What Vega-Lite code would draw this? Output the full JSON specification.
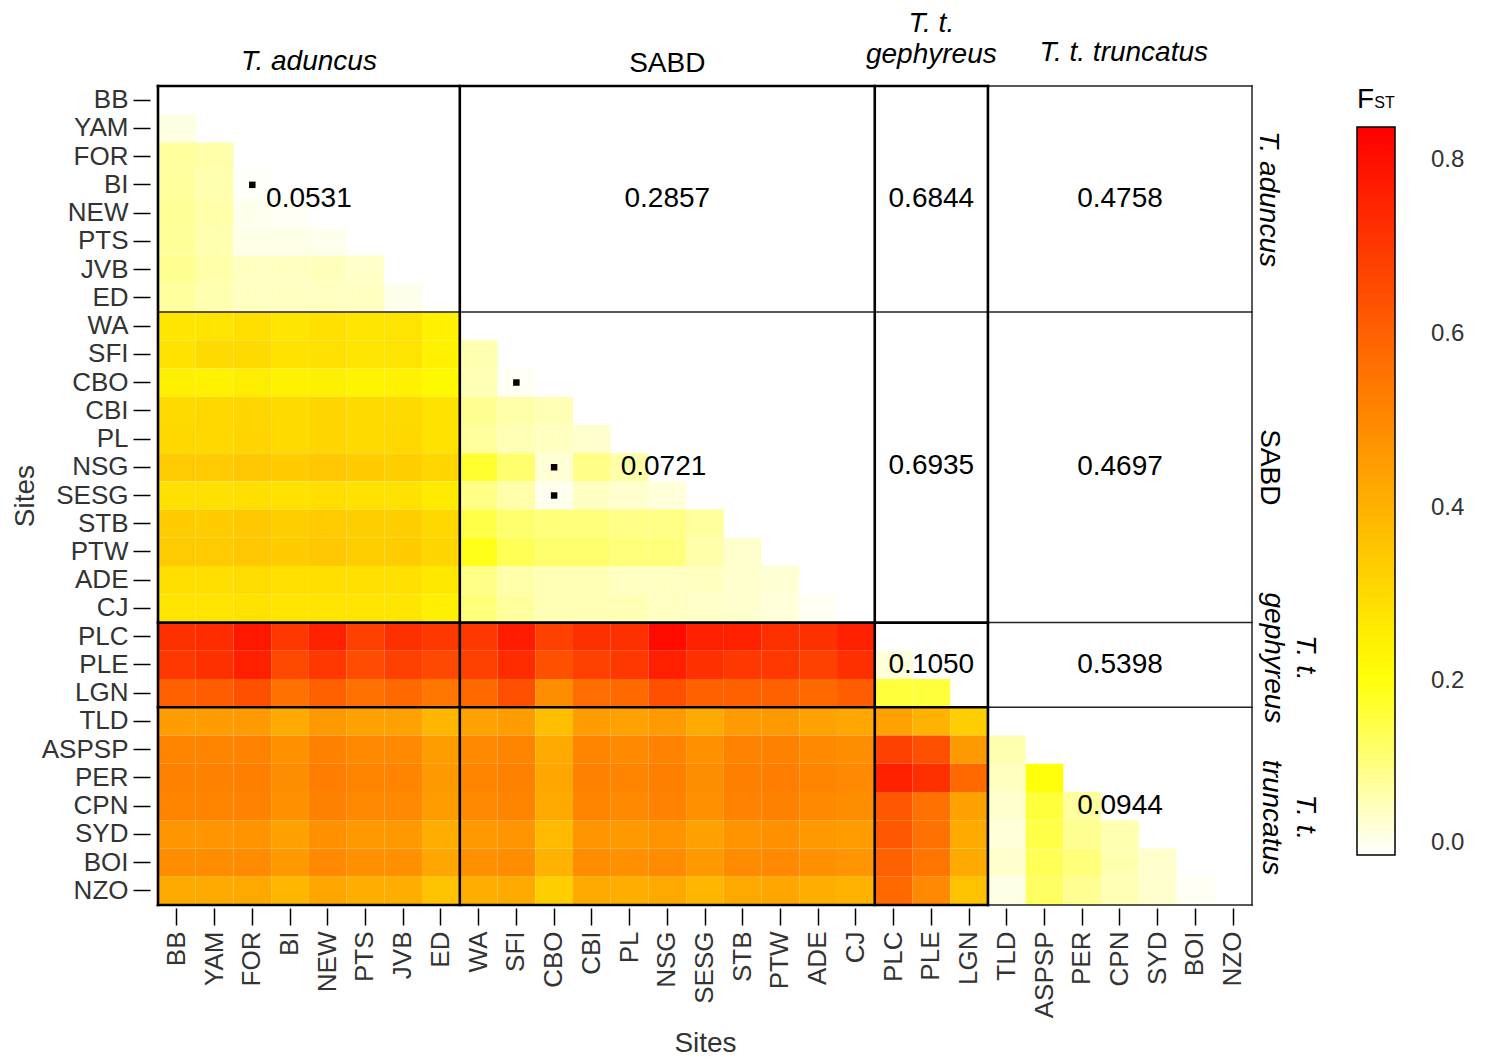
{
"$schema": "https://vega.github.io/schema/vega-lite/v6.json",
"width": 1094, "height": 819,
"autosize": {"type": "none"},
"padding": {"left": 158, "top": 86, "right": 233, "bottom": 154},
"background": "white",
"config": {"view": {"stroke": null}, "font": "Liberation Sans"},
"datasets": {
"cells": [
{"row":"YAM","col":"BB","fst":0.025},
{"row":"FOR","col":"BB","fst":0.08},{"row":"FOR","col":"YAM","fst":0.07},
{"row":"BI","col":"BB","fst":0.08},{"row":"BI","col":"YAM","fst":0.065},{"row":"BI","col":"FOR","fst":0.005},
{"row":"NEW","col":"BB","fst":0.085},{"row":"NEW","col":"YAM","fst":0.07},{"row":"NEW","col":"FOR","fst":0.015},{"row":"NEW","col":"BI","fst":0.01},
{"row":"PTS","col":"BB","fst":0.085},{"row":"PTS","col":"YAM","fst":0.065},{"row":"PTS","col":"FOR","fst":0.02},{"row":"PTS","col":"BI","fst":0.02},{"row":"PTS","col":"NEW","fst":0.015},
{"row":"JVB","col":"BB","fst":0.09},{"row":"JVB","col":"YAM","fst":0.07},{"row":"JVB","col":"FOR","fst":0.05},{"row":"JVB","col":"BI","fst":0.05},{"row":"JVB","col":"NEW","fst":0.055},{"row":"JVB","col":"PTS","fst":0.045},
{"row":"ED","col":"BB","fst":0.08},{"row":"ED","col":"YAM","fst":0.065},{"row":"ED","col":"FOR","fst":0.05},{"row":"ED","col":"BI","fst":0.05},{"row":"ED","col":"NEW","fst":0.05},{"row":"ED","col":"PTS","fst":0.05},{"row":"ED","col":"JVB","fst":0.015},

{"row":"WA","col":"BB","fst":0.27},{"row":"WA","col":"YAM","fst":0.275},{"row":"WA","col":"FOR","fst":0.29},{"row":"WA","col":"BI","fst":0.27},{"row":"WA","col":"NEW","fst":0.285},{"row":"WA","col":"PTS","fst":0.27},{"row":"WA","col":"JVB","fst":0.275},{"row":"WA","col":"ED","fst":0.245},
{"row":"SFI","col":"BB","fst":0.28},{"row":"SFI","col":"YAM","fst":0.30},{"row":"SFI","col":"FOR","fst":0.30},{"row":"SFI","col":"BI","fst":0.28},{"row":"SFI","col":"NEW","fst":0.285},{"row":"SFI","col":"PTS","fst":0.275},{"row":"SFI","col":"JVB","fst":0.275},{"row":"SFI","col":"ED","fst":0.245},{"row":"SFI","col":"WA","fst":0.065},
{"row":"CBO","col":"BB","fst":0.25},{"row":"CBO","col":"YAM","fst":0.245},{"row":"CBO","col":"FOR","fst":0.255},{"row":"CBO","col":"BI","fst":0.245},{"row":"CBO","col":"NEW","fst":0.25},{"row":"CBO","col":"PTS","fst":0.24},{"row":"CBO","col":"JVB","fst":0.245},{"row":"CBO","col":"ED","fst":0.225},{"row":"CBO","col":"WA","fst":0.06},{"row":"CBO","col":"SFI","fst":0.01},
{"row":"CBI","col":"BB","fst":0.30},{"row":"CBI","col":"YAM","fst":0.305},{"row":"CBI","col":"FOR","fst":0.31},{"row":"CBI","col":"BI","fst":0.30},{"row":"CBI","col":"NEW","fst":0.31},{"row":"CBI","col":"PTS","fst":0.30},{"row":"CBI","col":"JVB","fst":0.30},{"row":"CBI","col":"ED","fst":0.28},{"row":"CBI","col":"WA","fst":0.09},{"row":"CBI","col":"SFI","fst":0.07},{"row":"CBI","col":"CBO","fst":0.06},
{"row":"PL","col":"BB","fst":0.305},{"row":"PL","col":"YAM","fst":0.305},{"row":"PL","col":"FOR","fst":0.315},{"row":"PL","col":"BI","fst":0.30},{"row":"PL","col":"NEW","fst":0.31},{"row":"PL","col":"PTS","fst":0.30},{"row":"PL","col":"JVB","fst":0.305},{"row":"PL","col":"ED","fst":0.28},{"row":"PL","col":"WA","fst":0.08},{"row":"PL","col":"SFI","fst":0.06},{"row":"PL","col":"CBO","fst":0.05},{"row":"PL","col":"CBI","fst":0.04},
{"row":"NSG","col":"BB","fst":0.34},{"row":"NSG","col":"YAM","fst":0.34},{"row":"NSG","col":"FOR","fst":0.345},{"row":"NSG","col":"BI","fst":0.335},{"row":"NSG","col":"NEW","fst":0.345},{"row":"NSG","col":"PTS","fst":0.335},{"row":"NSG","col":"JVB","fst":0.33},{"row":"NSG","col":"ED","fst":0.31},{"row":"NSG","col":"WA","fst":0.17},{"row":"NSG","col":"SFI","fst":0.12},{"row":"NSG","col":"CBO","fst":0.035},{"row":"NSG","col":"CBI","fst":0.10},{"row":"NSG","col":"PL","fst":0.07},
{"row":"SESG","col":"BB","fst":0.285},{"row":"SESG","col":"YAM","fst":0.285},{"row":"SESG","col":"FOR","fst":0.29},{"row":"SESG","col":"BI","fst":0.28},{"row":"SESG","col":"NEW","fst":0.29},{"row":"SESG","col":"PTS","fst":0.28},{"row":"SESG","col":"JVB","fst":0.28},{"row":"SESG","col":"ED","fst":0.26},{"row":"SESG","col":"WA","fst":0.10},{"row":"SESG","col":"SFI","fst":0.07},{"row":"SESG","col":"CBO","fst":0.015},{"row":"SESG","col":"CBI","fst":0.05},{"row":"SESG","col":"PL","fst":0.04},{"row":"SESG","col":"NSG","fst":0.03},
{"row":"STB","col":"BB","fst":0.335},{"row":"STB","col":"YAM","fst":0.335},{"row":"STB","col":"FOR","fst":0.345},{"row":"STB","col":"BI","fst":0.33},{"row":"STB","col":"NEW","fst":0.34},{"row":"STB","col":"PTS","fst":0.33},{"row":"STB","col":"JVB","fst":0.33},{"row":"STB","col":"ED","fst":0.305},{"row":"STB","col":"WA","fst":0.15},{"row":"STB","col":"SFI","fst":0.12},{"row":"STB","col":"CBO","fst":0.11},{"row":"STB","col":"CBI","fst":0.11},{"row":"STB","col":"PL","fst":0.10},{"row":"STB","col":"NSG","fst":0.10},{"row":"STB","col":"SESG","fst":0.08},
{"row":"PTW","col":"BB","fst":0.34},{"row":"PTW","col":"YAM","fst":0.34},{"row":"PTW","col":"FOR","fst":0.345},{"row":"PTW","col":"BI","fst":0.335},{"row":"PTW","col":"NEW","fst":0.345},{"row":"PTW","col":"PTS","fst":0.33},{"row":"PTW","col":"JVB","fst":0.335},{"row":"PTW","col":"ED","fst":0.31},{"row":"PTW","col":"WA","fst":0.19},{"row":"PTW","col":"SFI","fst":0.14},{"row":"PTW","col":"CBO","fst":0.12},{"row":"PTW","col":"CBI","fst":0.12},{"row":"PTW","col":"PL","fst":0.11},{"row":"PTW","col":"NSG","fst":0.11},{"row":"PTW","col":"SESG","fst":0.07},{"row":"PTW","col":"STB","fst":0.04},
{"row":"ADE","col":"BB","fst":0.29},{"row":"ADE","col":"YAM","fst":0.29},{"row":"ADE","col":"FOR","fst":0.295},{"row":"ADE","col":"BI","fst":0.285},{"row":"ADE","col":"NEW","fst":0.29},{"row":"ADE","col":"PTS","fst":0.285},{"row":"ADE","col":"JVB","fst":0.285},{"row":"ADE","col":"ED","fst":0.265},{"row":"ADE","col":"WA","fst":0.10},{"row":"ADE","col":"SFI","fst":0.07},{"row":"ADE","col":"CBO","fst":0.06},{"row":"ADE","col":"CBI","fst":0.06},{"row":"ADE","col":"PL","fst":0.05},{"row":"ADE","col":"NSG","fst":0.05},{"row":"ADE","col":"SESG","fst":0.05},{"row":"ADE","col":"STB","fst":0.04},{"row":"ADE","col":"PTW","fst":0.035},
{"row":"CJ","col":"BB","fst":0.275},{"row":"CJ","col":"YAM","fst":0.275},{"row":"CJ","col":"FOR","fst":0.28},{"row":"CJ","col":"BI","fst":0.27},{"row":"CJ","col":"NEW","fst":0.275},{"row":"CJ","col":"PTS","fst":0.27},{"row":"CJ","col":"JVB","fst":0.27},{"row":"CJ","col":"ED","fst":0.25},{"row":"CJ","col":"WA","fst":0.11},{"row":"CJ","col":"SFI","fst":0.08},{"row":"CJ","col":"CBO","fst":0.06},{"row":"CJ","col":"CBI","fst":0.06},{"row":"CJ","col":"PL","fst":0.06},{"row":"CJ","col":"NSG","fst":0.05},{"row":"CJ","col":"SESG","fst":0.045},{"row":"CJ","col":"STB","fst":0.04},{"row":"CJ","col":"PTW","fst":0.03},{"row":"CJ","col":"ADE","fst":0.01},

{"row":"PLC","col":"BB","fst":0.72},{"row":"PLC","col":"YAM","fst":0.73},{"row":"PLC","col":"FOR","fst":0.78},{"row":"PLC","col":"BI","fst":0.70},{"row":"PLC","col":"NEW","fst":0.76},{"row":"PLC","col":"PTS","fst":0.68},{"row":"PLC","col":"JVB","fst":0.72},{"row":"PLC","col":"ED","fst":0.70},{"row":"PLC","col":"WA","fst":0.70},{"row":"PLC","col":"SFI","fst":0.77},{"row":"PLC","col":"CBO","fst":0.68},{"row":"PLC","col":"CBI","fst":0.72},{"row":"PLC","col":"PL","fst":0.72},{"row":"PLC","col":"NSG","fst":0.81},{"row":"PLC","col":"SESG","fst":0.76},{"row":"PLC","col":"STB","fst":0.76},{"row":"PLC","col":"PTW","fst":0.72},{"row":"PLC","col":"ADE","fst":0.72},{"row":"PLC","col":"CJ","fst":0.76},
{"row":"PLE","col":"BB","fst":0.70},{"row":"PLE","col":"YAM","fst":0.72},{"row":"PLE","col":"FOR","fst":0.76},{"row":"PLE","col":"BI","fst":0.66},{"row":"PLE","col":"NEW","fst":0.70},{"row":"PLE","col":"PTS","fst":0.65},{"row":"PLE","col":"JVB","fst":0.68},{"row":"PLE","col":"ED","fst":0.66},{"row":"PLE","col":"WA","fst":0.68},{"row":"PLE","col":"SFI","fst":0.73},{"row":"PLE","col":"CBO","fst":0.64},{"row":"PLE","col":"CBI","fst":0.68},{"row":"PLE","col":"PL","fst":0.70},{"row":"PLE","col":"NSG","fst":0.76},{"row":"PLE","col":"SESG","fst":0.72},{"row":"PLE","col":"STB","fst":0.70},{"row":"PLE","col":"PTW","fst":0.70},{"row":"PLE","col":"ADE","fst":0.68},{"row":"PLE","col":"CJ","fst":0.72},{"row":"PLE","col":"PLC","fst":0.03},
{"row":"LGN","col":"BB","fst":0.60},{"row":"LGN","col":"YAM","fst":0.61},{"row":"LGN","col":"FOR","fst":0.64},{"row":"LGN","col":"BI","fst":0.56},{"row":"LGN","col":"NEW","fst":0.60},{"row":"LGN","col":"PTS","fst":0.56},{"row":"LGN","col":"JVB","fst":0.58},{"row":"LGN","col":"ED","fst":0.55},{"row":"LGN","col":"WA","fst":0.58},{"row":"LGN","col":"SFI","fst":0.64},{"row":"LGN","col":"CBO","fst":0.49},{"row":"LGN","col":"CBI","fst":0.57},{"row":"LGN","col":"PL","fst":0.58},{"row":"LGN","col":"NSG","fst":0.64},{"row":"LGN","col":"SESG","fst":0.60},{"row":"LGN","col":"STB","fst":0.60},{"row":"LGN","col":"PTW","fst":0.60},{"row":"LGN","col":"ADE","fst":0.58},{"row":"LGN","col":"CJ","fst":0.61},{"row":"LGN","col":"PLC","fst":0.16},{"row":"LGN","col":"PLE","fst":0.16},

{"row":"TLD","col":"BB","fst":0.45},{"row":"TLD","col":"YAM","fst":0.45},{"row":"TLD","col":"FOR","fst":0.455},{"row":"TLD","col":"BI","fst":0.42},{"row":"TLD","col":"NEW","fst":0.46},{"row":"TLD","col":"PTS","fst":0.44},{"row":"TLD","col":"JVB","fst":0.44},{"row":"TLD","col":"ED","fst":0.39},{"row":"TLD","col":"WA","fst":0.44},{"row":"TLD","col":"SFI","fst":0.45},{"row":"TLD","col":"CBO","fst":0.37},{"row":"TLD","col":"CBI","fst":0.45},{"row":"TLD","col":"PL","fst":0.44},{"row":"TLD","col":"NSG","fst":0.455},{"row":"TLD","col":"SESG","fst":0.42},{"row":"TLD","col":"STB","fst":0.455},{"row":"TLD","col":"PTW","fst":0.46},{"row":"TLD","col":"ADE","fst":0.44},{"row":"TLD","col":"CJ","fst":0.43},{"row":"TLD","col":"PLC","fst":0.44},{"row":"TLD","col":"PLE","fst":0.40},{"row":"TLD","col":"LGN","fst":0.33},
{"row":"ASPSP","col":"BB","fst":0.51},{"row":"ASPSP","col":"YAM","fst":0.51},{"row":"ASPSP","col":"FOR","fst":0.515},{"row":"ASPSP","col":"BI","fst":0.48},{"row":"ASPSP","col":"NEW","fst":0.52},{"row":"ASPSP","col":"PTS","fst":0.50},{"row":"ASPSP","col":"JVB","fst":0.50},{"row":"ASPSP","col":"ED","fst":0.45},{"row":"ASPSP","col":"WA","fst":0.50},{"row":"ASPSP","col":"SFI","fst":0.51},{"row":"ASPSP","col":"CBO","fst":0.42},{"row":"ASPSP","col":"CBI","fst":0.51},{"row":"ASPSP","col":"PL","fst":0.50},{"row":"ASPSP","col":"NSG","fst":0.515},{"row":"ASPSP","col":"SESG","fst":0.48},{"row":"ASPSP","col":"STB","fst":0.515},{"row":"ASPSP","col":"PTW","fst":0.52},{"row":"ASPSP","col":"ADE","fst":0.50},{"row":"ASPSP","col":"CJ","fst":0.49},{"row":"ASPSP","col":"PLC","fst":0.68},{"row":"ASPSP","col":"PLE","fst":0.64},{"row":"ASPSP","col":"LGN","fst":0.46},{"row":"ASPSP","col":"TLD","fst":0.065},
{"row":"PER","col":"BB","fst":0.52},{"row":"PER","col":"YAM","fst":0.52},{"row":"PER","col":"FOR","fst":0.525},{"row":"PER","col":"BI","fst":0.49},{"row":"PER","col":"NEW","fst":0.53},{"row":"PER","col":"PTS","fst":0.51},{"row":"PER","col":"JVB","fst":0.51},{"row":"PER","col":"ED","fst":0.46},{"row":"PER","col":"WA","fst":0.51},{"row":"PER","col":"SFI","fst":0.52},{"row":"PER","col":"CBO","fst":0.43},{"row":"PER","col":"CBI","fst":0.52},{"row":"PER","col":"PL","fst":0.51},{"row":"PER","col":"NSG","fst":0.525},{"row":"PER","col":"SESG","fst":0.49},{"row":"PER","col":"STB","fst":0.525},{"row":"PER","col":"PTW","fst":0.53},{"row":"PER","col":"ADE","fst":0.51},{"row":"PER","col":"CJ","fst":0.50},{"row":"PER","col":"PLC","fst":0.76},{"row":"PER","col":"PLE","fst":0.72},{"row":"PER","col":"LGN","fst":0.58},{"row":"PER","col":"TLD","fst":0.05},{"row":"PER","col":"ASPSP","fst":0.20},
{"row":"CPN","col":"BB","fst":0.51},{"row":"CPN","col":"YAM","fst":0.51},{"row":"CPN","col":"FOR","fst":0.515},{"row":"CPN","col":"BI","fst":0.48},{"row":"CPN","col":"NEW","fst":0.52},{"row":"CPN","col":"PTS","fst":0.50},{"row":"CPN","col":"JVB","fst":0.50},{"row":"CPN","col":"ED","fst":0.45},{"row":"CPN","col":"WA","fst":0.50},{"row":"CPN","col":"SFI","fst":0.51},{"row":"CPN","col":"CBO","fst":0.42},{"row":"CPN","col":"CBI","fst":0.51},{"row":"CPN","col":"PL","fst":0.50},{"row":"CPN","col":"NSG","fst":0.515},{"row":"CPN","col":"SESG","fst":0.48},{"row":"CPN","col":"STB","fst":0.515},{"row":"CPN","col":"PTW","fst":0.52},{"row":"CPN","col":"ADE","fst":0.50},{"row":"CPN","col":"CJ","fst":0.49},{"row":"CPN","col":"PLC","fst":0.62},{"row":"CPN","col":"PLE","fst":0.56},{"row":"CPN","col":"LGN","fst":0.44},{"row":"CPN","col":"TLD","fst":0.04},{"row":"CPN","col":"ASPSP","fst":0.16},{"row":"CPN","col":"PER","fst":0.08},
{"row":"SYD","col":"BB","fst":0.47},{"row":"SYD","col":"YAM","fst":0.47},{"row":"SYD","col":"FOR","fst":0.475},{"row":"SYD","col":"BI","fst":0.44},{"row":"SYD","col":"NEW","fst":0.48},{"row":"SYD","col":"PTS","fst":0.46},{"row":"SYD","col":"JVB","fst":0.46},{"row":"SYD","col":"ED","fst":0.41},{"row":"SYD","col":"WA","fst":0.46},{"row":"SYD","col":"SFI","fst":0.47},{"row":"SYD","col":"CBO","fst":0.38},{"row":"SYD","col":"CBI","fst":0.47},{"row":"SYD","col":"PL","fst":0.46},{"row":"SYD","col":"NSG","fst":0.475},{"row":"SYD","col":"SESG","fst":0.44},{"row":"SYD","col":"STB","fst":0.475},{"row":"SYD","col":"PTW","fst":0.48},{"row":"SYD","col":"ADE","fst":0.46},{"row":"SYD","col":"CJ","fst":0.45},{"row":"SYD","col":"PLC","fst":0.62},{"row":"SYD","col":"PLE","fst":0.56},{"row":"SYD","col":"LGN","fst":0.42},{"row":"SYD","col":"TLD","fst":0.03},{"row":"SYD","col":"ASPSP","fst":0.15},{"row":"SYD","col":"PER","fst":0.09},{"row":"SYD","col":"CPN","fst":0.065},
{"row":"BOI","col":"BB","fst":0.49},{"row":"BOI","col":"YAM","fst":0.49},{"row":"BOI","col":"FOR","fst":0.495},{"row":"BOI","col":"BI","fst":0.46},{"row":"BOI","col":"NEW","fst":0.50},{"row":"BOI","col":"PTS","fst":0.48},{"row":"BOI","col":"JVB","fst":0.48},{"row":"BOI","col":"ED","fst":0.43},{"row":"BOI","col":"WA","fst":0.48},{"row":"BOI","col":"SFI","fst":0.49},{"row":"BOI","col":"CBO","fst":0.40},{"row":"BOI","col":"CBI","fst":0.49},{"row":"BOI","col":"PL","fst":0.48},{"row":"BOI","col":"NSG","fst":0.495},{"row":"BOI","col":"SESG","fst":0.46},{"row":"BOI","col":"STB","fst":0.495},{"row":"BOI","col":"PTW","fst":0.50},{"row":"BOI","col":"ADE","fst":0.48},{"row":"BOI","col":"CJ","fst":0.47},{"row":"BOI","col":"PLC","fst":0.60},{"row":"BOI","col":"PLE","fst":0.55},{"row":"BOI","col":"LGN","fst":0.42},{"row":"BOI","col":"TLD","fst":0.04},{"row":"BOI","col":"ASPSP","fst":0.14},{"row":"BOI","col":"PER","fst":0.11},{"row":"BOI","col":"CPN","fst":0.065},{"row":"BOI","col":"SYD","fst":0.04},
{"row":"NZO","col":"BB","fst":0.42},{"row":"NZO","col":"YAM","fst":0.42},{"row":"NZO","col":"FOR","fst":0.425},{"row":"NZO","col":"BI","fst":0.39},{"row":"NZO","col":"NEW","fst":0.43},{"row":"NZO","col":"PTS","fst":0.41},{"row":"NZO","col":"JVB","fst":0.41},{"row":"NZO","col":"ED","fst":0.36},{"row":"NZO","col":"WA","fst":0.41},{"row":"NZO","col":"SFI","fst":0.42},{"row":"NZO","col":"CBO","fst":0.33},{"row":"NZO","col":"CBI","fst":0.42},{"row":"NZO","col":"PL","fst":0.41},{"row":"NZO","col":"NSG","fst":0.425},{"row":"NZO","col":"SESG","fst":0.39},{"row":"NZO","col":"STB","fst":0.425},{"row":"NZO","col":"PTW","fst":0.43},{"row":"NZO","col":"ADE","fst":0.41},{"row":"NZO","col":"CJ","fst":0.40},{"row":"NZO","col":"PLC","fst":0.58},{"row":"NZO","col":"PLE","fst":0.50},{"row":"NZO","col":"LGN","fst":0.36},{"row":"NZO","col":"TLD","fst":0.02},{"row":"NZO","col":"ASPSP","fst":0.13},{"row":"NZO","col":"PER","fst":0.09},{"row":"NZO","col":"CPN","fst":0.06},{"row":"NZO","col":"SYD","fst":0.04},{"row":"NZO","col":"BOI","fst":0.01}
],
"nonsig": [
{"row":"BI","col":"FOR"},{"row":"CBO","col":"SFI"},{"row":"NSG","col":"CBO"},{"row":"SESG","col":"CBO"}
],
"means": [
{"label":"0.0531","xc":4,"yc":4},{"label":"0.2857","xc":13.5,"yc":4},{"label":"0.6844","xc":20.5,"yc":4},{"label":"0.4758","xc":25.5,"yc":4},
{"label":"0.0721","xc":13.4,"yc":13.5},{"label":"0.6935","xc":20.5,"yc":13.45},{"label":"0.4697","xc":25.5,"yc":13.5},
{"label":"0.1050","xc":20.5,"yc":20.5},{"label":"0.5398","xc":25.5,"yc":20.5},
{"label":"0.0944","xc":25.5,"yc":25.5}
],
"thick": [
{"x1":0,"x2":0,"y1":0,"y2":29},{"x1":8,"x2":8,"y1":0,"y2":29},{"x1":19,"x2":19,"y1":0,"y2":29},{"x1":22,"x2":22,"y1":0,"y2":29},
{"x1":0,"x2":22,"y1":0,"y2":0},{"x1":0,"x2":22,"y1":29,"y2":29},{"x1":0,"x2":22,"y1":19,"y2":19},{"x1":0,"x2":22,"y1":22,"y2":22}
],
"thin": [
{"x1":0,"x2":29,"y1":8,"y2":8},{"x1":22,"x2":29,"y1":19,"y2":19},{"x1":22,"x2":29,"y1":22,"y2":22},
{"x1":22,"x2":29,"y1":0,"y2":0},{"x1":22,"x2":29,"y1":29,"y2":29},{"x1":29,"x2":29,"y1":0,"y2":29}
],
"topItalic": [
{"label":"T. aduncus","xc":4,"yc":-0.57},{"label":"T. t.","xc":20.5,"yc":-1.92},{"label":"gephyreus","xc":20.5,"yc":-0.8},{"label":"T. t. truncatus","xc":25.6,"yc":-0.9}
],
"topNormal": [{"label":"SABD","xc":13.5,"yc":-0.5}],
"sideItalic": [
{"label":"T. aduncus","xc":29.2,"yc":4},{"label":"T. t.","xc":30.2,"yc":20.25},{"label":"gephyreus","xc":29.35,"yc":20.25},{"label":"T. t.","xc":30.2,"yc":25.9},{"label":"truncatus","xc":29.3,"yc":25.9}
],
"sideNormal": [{"label":"SABD","xc":29.24,"yc":13.5}],
"legendSub": [{"label":"ST","xc":32.24,"yc":0.78}]
},
"layer": [
{
"data": {"name": "cells"},
"mark": {"type": "rect"},
"encoding": {
"x": {"field": "col", "type": "nominal",
"scale": {"domain": ["BB","YAM","FOR","BI","NEW","PTS","JVB","ED","WA","SFI","CBO","CBI","PL","NSG","SESG","STB","PTW","ADE","CJ","PLC","PLE","LGN","TLD","ASPSP","PER","CPN","SYD","BOI","NZO"], "paddingInner": 0, "paddingOuter": 0},
"axis": {"orient": "bottom", "title": "Sites", "labelAngle": -90, "labelFontSize": 26, "labelColor": "#333", "labelFont": "Liberation Sans", "tickSize": 17, "tickColor": "black", "tickWidth": 1.5, "domain": false, "offset": 3, "labelPadding": 6, "labelBound": false, "labelOverlap": false, "titleFontSize": 28, "titleFontWeight": "normal", "titleColor": "#333", "titleFont": "Liberation Sans", "titleX": 547, "titleY": 121, "titleBaseline": "top", "titleAlign": "center"}},
"y": {"field": "row", "type": "nominal",
"scale": {"domain": ["BB","YAM","FOR","BI","NEW","PTS","JVB","ED","WA","SFI","CBO","CBI","PL","NSG","SESG","STB","PTW","ADE","CJ","PLC","PLE","LGN","TLD","ASPSP","PER","CPN","SYD","BOI","NZO"], "paddingInner": 0, "paddingOuter": 0},
"axis": {"orient": "left", "title": "Sites", "labelFontSize": 26, "labelColor": "#333", "labelFont": "Liberation Sans", "tickSize": 17, "tickColor": "black", "tickWidth": 1.5, "domain": false, "offset": 8, "labelPadding": 5, "labelBound": false, "labelOverlap": false, "titleFontSize": 28, "titleFontWeight": "normal", "titleColor": "#333", "titleFont": "Liberation Sans", "titleAngle": -90, "titleX": -125, "titleY": 409.5, "titleBaseline": "middle", "titleAlign": "center"}},
"color": {"field": "fst", "type": "quantitative",
"scale": {"type": "linear", "domain": [0, 0.2095, 0.838], "range": ["#ffffff", "#ffff00", "#ff0000"], "interpolate": "rgb"},
"legend": {"orient": "none", "legendX": 1199, "legendY": 0, "direction": "vertical", "gradientLength": 728, "gradientThickness": 38, "title": "F", "titleFontSize": 28, "titleFont": "Liberation Sans", "titleFontWeight": "normal", "titleColor": "black", "titlePadding": 13, "values": [0, 0.2, 0.4, 0.6, 0.8], "format": ".1f", "labelFontSize": 24, "labelColor": "#333", "labelFont": "Liberation Sans", "labelOffset": 36, "gradientStrokeColor": "black", "gradientStrokeWidth": 1.5, "padding": 0, "labelOverlap": false}}
}
},
{
"data": {"name": "nonsig"},
"mark": {"type": "square", "size": 42, "color": "black", "filled": true, "opacity": 1},
"encoding": {
"x": {"field": "col", "type": "nominal", "scale": {"domain": ["BB","YAM","FOR","BI","NEW","PTS","JVB","ED","WA","SFI","CBO","CBI","PL","NSG","SESG","STB","PTW","ADE","CJ","PLC","PLE","LGN","TLD","ASPSP","PER","CPN","SYD","BOI","NZO"], "paddingInner": 0, "paddingOuter": 0}, "axis": null},
"y": {"field": "row", "type": "nominal", "scale": {"domain": ["BB","YAM","FOR","BI","NEW","PTS","JVB","ED","WA","SFI","CBO","CBI","PL","NSG","SESG","STB","PTW","ADE","CJ","PLC","PLE","LGN","TLD","ASPSP","PER","CPN","SYD","BOI","NZO"], "paddingInner": 0, "paddingOuter": 0}, "axis": null}
}
},
{
"data": {"name": "thin"},
"mark": {"type": "rule", "strokeWidth": 1.5, "color": "#222", "strokeCap": "square"},
"encoding": {
"x": {"field": "x1", "type": "quantitative", "scale": {"domain": [0, 29], "nice": false, "zero": false}, "axis": null},
"x2": {"field": "x2"},
"y": {"field": "y1", "type": "quantitative", "scale": {"domain": [0, 29], "nice": false, "zero": false, "reverse": true}, "axis": null},
"y2": {"field": "y2"}
}
},
{
"data": {"name": "thick"},
"mark": {"type": "rule", "strokeWidth": 2.6, "color": "black", "strokeCap": "square"},
"encoding": {
"x": {"field": "x1", "type": "quantitative", "scale": {"domain": [0, 29], "nice": false, "zero": false}, "axis": null},
"x2": {"field": "x2"},
"y": {"field": "y1", "type": "quantitative", "scale": {"domain": [0, 29], "nice": false, "zero": false, "reverse": true}, "axis": null},
"y2": {"field": "y2"}
}
},
{
"data": {"name": "means"},
"mark": {"type": "text", "fontSize": 28, "font": "Liberation Sans", "color": "black", "align": "center", "baseline": "middle"},
"encoding": {
"x": {"field": "xc", "type": "quantitative", "scale": {"domain": [0, 29], "nice": false, "zero": false}, "axis": null},
"y": {"field": "yc", "type": "quantitative", "scale": {"domain": [0, 29], "nice": false, "zero": false, "reverse": true}, "axis": null},
"text": {"field": "label", "type": "nominal"}
}
},
{
"data": {"name": "topItalic"},
"mark": {"type": "text", "fontSize": 28, "font": "Liberation Sans", "fontStyle": "italic", "color": "black", "align": "center", "baseline": "alphabetic"},
"encoding": {
"x": {"field": "xc", "type": "quantitative", "scale": {"domain": [0, 29], "nice": false, "zero": false}, "axis": null},
"y": {"field": "yc", "type": "quantitative", "scale": {"domain": [0, 29], "nice": false, "zero": false, "reverse": true}, "axis": null},
"text": {"field": "label", "type": "nominal"}
}
},
{
"data": {"name": "topNormal"},
"mark": {"type": "text", "fontSize": 28, "font": "Liberation Sans", "color": "black", "align": "center", "baseline": "alphabetic"},
"encoding": {
"x": {"field": "xc", "type": "quantitative", "scale": {"domain": [0, 29], "nice": false, "zero": false}, "axis": null},
"y": {"field": "yc", "type": "quantitative", "scale": {"domain": [0, 29], "nice": false, "zero": false, "reverse": true}, "axis": null},
"text": {"field": "label", "type": "nominal"}
}
},
{
"data": {"name": "sideItalic"},
"mark": {"type": "text", "fontSize": 28, "font": "Liberation Sans", "fontStyle": "italic", "color": "black", "align": "center", "baseline": "alphabetic", "angle": 90},
"encoding": {
"x": {"field": "xc", "type": "quantitative", "scale": {"domain": [0, 29], "nice": false, "zero": false}, "axis": null},
"y": {"field": "yc", "type": "quantitative", "scale": {"domain": [0, 29], "nice": false, "zero": false, "reverse": true}, "axis": null},
"text": {"field": "label", "type": "nominal"}
}
},
{
"data": {"name": "sideNormal"},
"mark": {"type": "text", "fontSize": 28, "font": "Liberation Sans", "color": "black", "align": "center", "baseline": "alphabetic", "angle": 90},
"encoding": {
"x": {"field": "xc", "type": "quantitative", "scale": {"domain": [0, 29], "nice": false, "zero": false}, "axis": null},
"y": {"field": "yc", "type": "quantitative", "scale": {"domain": [0, 29], "nice": false, "zero": false, "reverse": true}, "axis": null},
"text": {"field": "label", "type": "nominal"}
}
},
{
"data": {"name": "legendSub"},
"mark": {"type": "text", "fontSize": 16, "font": "Liberation Sans", "color": "black", "align": "left", "baseline": "alphabetic"},
"encoding": {
"x": {"field": "xc", "type": "quantitative", "scale": {"domain": [0, 29], "nice": false, "zero": false}, "axis": null},
"y": {"field": "yc", "type": "quantitative", "scale": {"domain": [0, 29], "nice": false, "zero": false, "reverse": true}, "axis": null},
"text": {"field": "label", "type": "nominal"}
}
}
],
"resolve": {"scale": {"x": "independent", "y": "independent"}}
}
